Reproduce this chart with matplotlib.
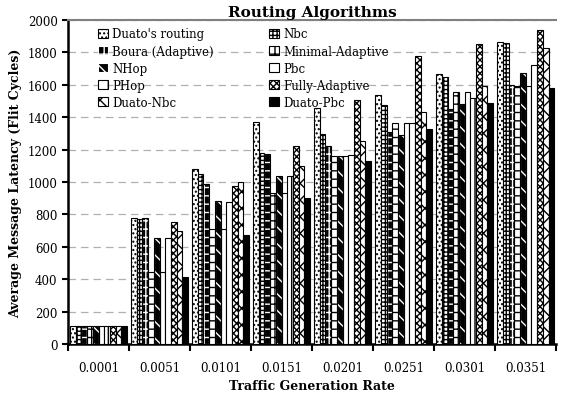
import matplotlib
matplotlib.use('Agg')
import matplotlib.pyplot as plt
import numpy as np

plt.rcParams['font.family'] = ['DejaVu Serif']
plt.rcParams['hatch.linewidth'] = 1.0

# data
rates = ['0.0001', '0.0051', '0.0101', '0.0151', '0.0201', '0.0251', '0.0301', '0.0351']
series_names = ["Duato's routing", 'Nbc', 'Boura (Adaptive)', 'Minimal-Adaptive', 'NHop',
                'Pbc', 'PHop', 'Fully-Adaptive', 'Duato-Nbc', 'Duato-Pbc']
duato = [110, 775, 1080, 1370, 1455, 1540, 1665, 1865]
nbc = [110, 770, 1050, 1180, 1295, 1475, 1645, 1860]
boura = [110, 780, 985, 1170, 1225, 1310, 1450, 1600]
minimal = [110, 445, 712, 935, 1160, 1365, 1555, 1595]
nhop = [110, 655, 883, 1040, 1160, 1290, 1480, 1670]
pbc = [110, 445, 712, 935, 1160, 1365, 1555, 1590]
phop = [110, 655, 875, 1040, 1165, 1365, 1520, 1725]
fully = [110, 750, 978, 1225, 1505, 1775, 1850, 1940]
duato_nbc = [110, 695, 1002, 1100, 1250, 1430, 1595, 1830]
duato_pbc = [110, 415, 673, 900, 1130, 1330, 1490, 1580]
values = [duato, nbc, boura, minimal, nhop, pbc, phop, fully, duato_nbc, duato_pbc]

# styles (face, hatch)
styles = [
    ('white', '....'),
    ('white', '++++'),
    ('black', '++'),
    ('white', '-+'),
    ('black', '\\\\'),
    ('white', ''),
    ('white', '|'),
    ('white', 'xxxxx'),
    ('white', 'xx'),
    ('black', ''),
]

fig = plt.figure(figsize=(5.69, 4.02), dpi=100)
ax = fig.add_axes([0.1195, 0.1418, 0.858, 0.806])

x = np.arange(len(rates))
n = len(values)
w = 0.935 / n
handles = []
for i, (vals, name, (fc, h)) in enumerate(zip(values, series_names, styles)):
    pos = x - 0.4675 + w * (i + 0.5)
    ec = 'white' if fc == 'black' and h else 'black'
    b = ax.bar(pos, vals, width=w, facecolor=fc, edgecolor=ec, hatch=h,
               linewidth=0.8, label=name, zorder=3)
    if fc == 'black' and h:
        ax.bar(pos, vals, width=w, facecolor='none', edgecolor='black',
               linewidth=0.8, zorder=4)
    handles.append(b)

ax.set_xlim(-0.5, len(rates) - 0.5)
ax.set_ylim(0, 2000)
ax.set_yticks(range(0, 2001, 200))
ax.set_xticks(x)
ax.set_xticklabels(rates, fontsize=8.5)
ax.set_xticks(np.arange(-0.5, len(rates), 1.0), minor=True)
ax.tick_params(axis='x', which='major', length=0, pad=12)
ax.tick_params(axis='x', which='minor', length=5, width=1.5, direction='out')
ax.tick_params(axis='y', labelsize=8.5, length=4, width=1.5, direction='out')
ax.yaxis.grid(True, linestyle=(0, (6, 4)), color='#b0b0b0', linewidth=0.9, zorder=0)
ax.set_axisbelow(True)

for s in ['left', 'bottom']:
    ax.spines[s].set_linewidth(1.8)
ax.spines['right'].set_visible(False)
ax.spines['top'].set_color('#808080')
ax.spines['top'].set_linewidth(1.5)

ax.set_title('Routing Algorithms', fontsize=11, fontweight='bold', pad=3)
ax.set_xlabel('Traffic Generation Rate', fontsize=9, fontweight='bold', labelpad=4)
ax.set_ylabel('Average Message Latency (Flit Cycles)', fontsize=9, fontweight='bold', labelpad=4)

order = [0, 2, 4, 6, 8, 1, 3, 5, 7, 9]
leg = ax.legend([handles[k] for k in order], [series_names[k] for k in order],
                loc='upper left', ncol=2, frameon=False, fontsize=8.5,
                bbox_to_anchor=(0.04, 1.01), handlelength=0.8, handleheight=0.8,
                handletextpad=0.4, labelspacing=0.35, columnspacing=4.7)

fig.savefig('out.png', dpi=100, facecolor='white')
